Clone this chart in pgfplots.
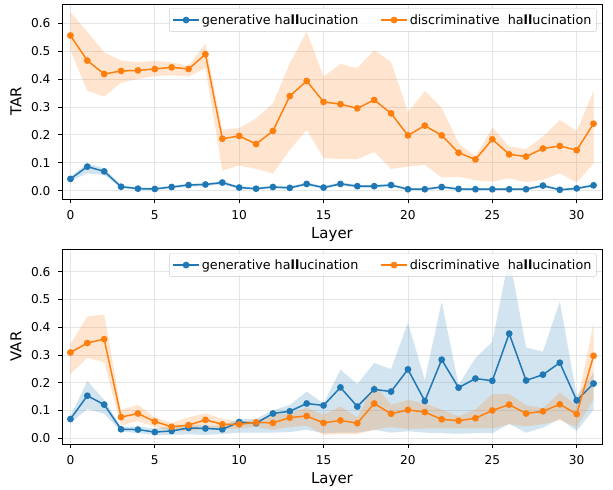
\documentclass[border=0pt]{standalone}
\usepackage{pgfplots}
\pgfplotsset{compat=1.18}
\usepackage{pgfplotstable}
\usepgfplotslibrary{fillbetween}
\usepackage{fontspec}
\setmainfont{DejaVu Sans}
\definecolor{cA}{HTML}{1F77B4}
\definecolor{cB}{HTML}{FF7F0E}
\pgfplotstableread{
x gm gu gl dm du dl
0 0.042 0.050 0.034 0.556 0.638 0.502
1 0.086 0.098 0.062 0.466 0.570 0.358
2 0.069 0.080 0.056 0.418 0.496 0.337
3 0.014 0.020 0.009 0.429 0.466 0.387
4 0.007 0.012 0.003 0.431 0.460 0.400
5 0.006 0.011 0.002 0.436 0.465 0.411
6 0.013 0.018 0.008 0.442 0.460 0.413
7 0.020 0.025 0.014 0.436 0.447 0.409
8 0.022 0.027 0.016 0.489 0.528 0.439
9 0.029 0.034 0.022 0.186 0.218 0.072
10 0.011 0.016 0.006 0.196 0.224 0.090
11 0.007 0.012 0.003 0.167 0.259 0.078
12 0.013 0.018 0.008 0.214 0.313 0.061
13 0.010 0.015 0.005 0.339 0.457 0.146
14 0.024 0.030 0.018 0.393 0.570 0.218
15 0.011 0.016 0.006 0.318 0.409 0.117
16 0.024 0.030 0.018 0.310 0.454 0.113
17 0.016 0.021 0.010 0.295 0.439 0.113
18 0.016 0.021 0.010 0.325 0.504 0.138
19 0.020 0.026 0.014 0.277 0.462 0.078
20 0.005 0.009 0.001 0.198 0.281 0.086
21 0.005 0.009 0.001 0.233 0.357 0.092
22 0.013 0.018 0.008 0.198 0.297 0.047
23 0.006 0.010 0.002 0.136 0.170 0.050
24 0.005 0.009 0.001 0.112 0.122 0.037
25 0.005 0.009 0.001 0.184 0.226 0.032
26 0.005 0.009 0.001 0.130 0.158 0.044
27 0.005 0.009 0.001 0.122 0.149 0.030
28 0.018 0.023 0.012 0.151 0.194 0.039
29 0.003 0.007 0.000 0.160 0.253 0.062
30 0.008 0.012 0.003 0.145 0.214 0.029
31 0.019 0.024 0.013 0.240 0.357 0.098
}\tartab
\pgfplotstableread{
x gm gu gl dm du dl
0 0.069 0.080 0.055 0.309 0.339 0.231
1 0.153 0.206 0.105 0.343 0.439 0.289
2 0.121 0.138 0.088 0.357 0.446 0.274
3 0.032 0.040 0.025 0.076 0.102 0.046
4 0.031 0.042 0.018 0.089 0.120 0.062
5 0.022 0.035 0.012 0.060 0.075 0.040
6 0.026 0.045 0.012 0.041 0.055 0.025
7 0.037 0.048 0.014 0.047 0.075 0.025
8 0.035 0.045 0.012 0.066 0.090 0.035
9 0.032 0.045 0.015 0.050 0.070 0.030
10 0.058 0.070 0.020 0.050 0.060 0.035
11 0.054 0.070 0.020 0.057 0.065 0.040
12 0.089 0.100 0.020 0.055 0.085 0.030
13 0.097 0.120 0.022 0.074 0.090 0.040
14 0.125 0.168 0.030 0.080 0.110 0.045
15 0.118 0.125 0.018 0.055 0.085 0.012
16 0.183 0.247 0.020 0.064 0.114 0.015
17 0.114 0.195 0.020 0.054 0.075 0.015
18 0.176 0.271 0.030 0.125 0.196 0.030
19 0.168 0.249 0.020 0.088 0.120 0.040
20 0.248 0.417 0.025 0.102 0.138 0.033
21 0.134 0.210 0.020 0.094 0.125 0.035
22 0.283 0.492 0.018 0.068 0.103 0.035
23 0.182 0.192 0.016 0.063 0.079 0.035
24 0.215 0.289 0.018 0.072 0.103 0.035
25 0.207 0.347 0.018 0.100 0.159 0.035
26 0.377 0.656 0.052 0.121 0.159 0.050
27 0.208 0.327 0.020 0.089 0.119 0.043
28 0.229 0.312 0.038 0.097 0.108 0.050
29 0.272 0.493 0.070 0.122 0.165 0.065
30 0.136 0.153 0.026 0.087 0.117 0.040
31 0.197 0.235 0.102 0.297 0.415 0.138
}\vartab
\pgfplotsset{
  myax/.style={
    scale only axis, width=540bp, height=195bp,
    xmin=-0.5, xmax=31.5,
    xtick={0,5,...,30}, ytick={0,0.1,...,0.6},
    /pgf/number format/assume math mode=true,
    tick label style={font=\fontsize{12.2}{14}\selectfont},
    xticklabel style={yshift=-4bp},
    yticklabel style={xshift=-4bp, /pgf/number format/.cd, fixed, fixed zerofill, precision=1},
    label style={font=\fontsize{15}{17}\selectfont},
    tick align=outside, major tick length=4bp,
    tick style={black, line width=0.8bp},
    xtick pos=bottom, ytick pos=left,
    axis line style={line width=0.8bp},
    grid=major, grid style={gray!20, line width=0.8bp},
    xlabel={Layer},
    xlabel style={yshift=-1bp},
    ylabel style={yshift=3bp},
    legend columns=2,
    legend cell align=left,
    legend style={at={(rel axis cs:0.99,0.978)}, anchor=north east,
      draw=black!20, rounded corners=2pt, fill=white, fill opacity=0.8, text opacity=1,
      font=\fontsize{12.8}{15}\selectfont, inner xsep=3bp, inner ysep=4bp,
      /tikz/every even column/.append style={column sep=20bp}},
    legend image code/.code={\draw[mark repeat=2,mark phase=2] plot coordinates {(0bp,0bp)(13bp,0bp)(26bp,0bp)};},
  },
  ln/.style={line width=1.5bp, mark=*, mark size=2.6bp},
}
\newcommand{\hl}{ha\textbf{ll}ucination}
\begin{document}
\begin{tikzpicture}
\begin{axis}[myax, at={(62bp,286bp)}, anchor=south west, ymin=-0.03, ymax=0.669, ylabel={TAR}]
\addplot[draw=none, name path=gu, forget plot] table[x=x,y=gu]{\tartab};
\addplot[draw=none, name path=gl, forget plot] table[x=x,y=gl]{\tartab};
\addplot[cA, fill opacity=0.2, draw opacity=0, forget plot] fill between[of=gu and gl];
\addplot[draw=none, name path=du, forget plot] table[x=x,y=du]{\tartab};
\addplot[draw=none, name path=dl, forget plot] table[x=x,y=dl]{\tartab};
\addplot[cB, fill opacity=0.2, draw opacity=0, forget plot] fill between[of=du and dl];
\addplot[cA, ln] table[x=x,y=gm]{\tartab};
\addlegendentry{generative \hl}
\addplot[cB, ln] table[x=x,y=dm]{\tartab};
\addlegendentry{discriminative\ \ \hl}
\end{axis}
\begin{axis}[myax, at={(62bp,41bp)}, anchor=south west, ymin=-0.021, ymax=0.682, ylabel={VAR}]
\addplot[draw=none, name path=gu, forget plot] table[x=x,y=gu]{\vartab};
\addplot[draw=none, name path=gl, forget plot] table[x=x,y=gl]{\vartab};
\addplot[cA, fill opacity=0.2, draw opacity=0, forget plot] fill between[of=gu and gl];
\addplot[draw=none, name path=du, forget plot] table[x=x,y=du]{\vartab};
\addplot[draw=none, name path=dl, forget plot] table[x=x,y=dl]{\vartab};
\addplot[cB, fill opacity=0.2, draw opacity=0, forget plot] fill between[of=du and dl];
\addplot[cA, ln] table[x=x,y=gm]{\vartab};
\addlegendentry{generative \hl}
\addplot[cB, ln] table[x=x,y=dm]{\vartab};
\addlegendentry{discriminative\ \ \hl}
\end{axis}
\path (0,0) rectangle (613bp,485bp);
\end{tikzpicture}
\end{document}
